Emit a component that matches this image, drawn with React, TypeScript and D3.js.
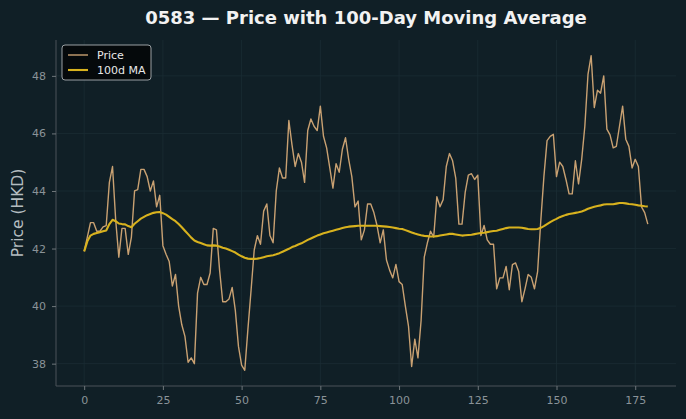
import React, { useEffect, useRef } from "react";
import * as d3 from "d3";

// ---- data ----
const price: number[] = [
  41.9, 42.4, 42.9, 42.9, 42.6, 42.6, 42.75, 42.8, 44.3, 44.85,
  43.0, 41.7, 42.7, 42.7, 41.8, 42.4, 44.0, 44.05, 44.75, 44.75,
  44.5, 44.0, 44.35, 43.45, 43.85, 42.1, 41.8, 41.55, 40.7, 41.1,
  40.0, 39.35, 38.95, 38.05, 38.2, 38.0, 40.45, 41.0, 40.75, 40.75,
  41.15, 42.7, 42.65, 41.25, 40.15, 40.15, 40.25, 40.65, 39.85, 38.6,
  37.95, 37.77, 39.2, 40.55, 41.95, 42.45, 42.15, 43.3, 43.55, 42.45,
  42.2, 44.0, 44.8, 44.45, 44.45, 46.45, 45.6, 44.85, 45.3, 45.0,
  44.3, 46.1, 46.5, 46.25, 46.1, 46.95, 45.9, 45.5, 44.8, 44.1,
  44.95, 44.65, 45.45, 45.85, 45.1, 44.5, 43.45, 43.65, 42.3, 42.65,
  43.55, 43.55, 43.25, 42.8, 42.2, 42.65, 41.6, 41.25, 40.98, 41.45,
  40.85, 40.75, 40.0, 39.3, 37.9, 38.85, 38.2, 39.5, 41.7, 42.2,
  42.6, 42.4, 43.8, 43.45, 43.7, 44.85, 45.3, 45.05, 44.45, 42.85,
  42.85, 43.95, 44.55, 44.6, 44.4, 44.55, 42.45, 42.8, 42.3, 42.15,
  42.15, 40.6, 40.98, 40.98, 41.38, 40.57, 41.44, 41.5, 41.2, 40.15,
  40.6, 41.1, 41.0, 40.6, 41.2, 42.95, 44.5, 45.75, 45.9, 45.97,
  44.5, 45.0, 44.85, 44.4, 43.9, 43.9, 45.05, 44.25, 45.1, 46.25,
  48.05, 48.7, 46.9, 47.5, 47.4, 48.0, 46.15, 45.95, 45.5, 45.55,
  46.25, 46.95, 45.8, 45.55, 44.8, 45.1, 44.85, 43.45, 43.25, 42.85,
];

const ma100: number[] = [
  41.9, 42.25, 42.45, 42.51, 42.54, 42.57, 42.6, 42.63, 42.85, 43.0,
  42.95, 42.87, 42.85, 42.84, 42.78, 42.74, 42.86, 42.95, 43.04, 43.1,
  43.16, 43.2, 43.24, 43.26, 43.27, 43.23, 43.18, 43.1, 43.02, 42.95,
  42.85, 42.74, 42.62, 42.5, 42.38, 42.28, 42.23, 42.19, 42.15, 42.11,
  42.1, 42.11, 42.1, 42.07, 42.03, 42.0, 41.96, 41.91, 41.86, 41.79,
  41.73, 41.68, 41.65, 41.64, 41.64, 41.65, 41.67, 41.7, 41.73, 41.75,
  41.77, 41.8, 41.84, 41.89, 41.94, 41.99, 42.05, 42.09, 42.14, 42.18,
  42.24, 42.3, 42.35, 42.4, 42.45, 42.49, 42.53, 42.56, 42.59, 42.62,
  42.65, 42.68, 42.71, 42.74, 42.76, 42.77, 42.78, 42.79, 42.79, 42.79,
  42.79, 42.79, 42.79, 42.79, 42.78, 42.77, 42.76, 42.75, 42.73, 42.71,
  42.69, 42.68, 42.64, 42.6, 42.56, 42.52, 42.49, 42.46, 42.44, 42.43,
  42.42, 42.42, 42.43, 42.45, 42.47, 42.49, 42.51, 42.51, 42.49, 42.47,
  42.45, 42.46, 42.47, 42.48, 42.5, 42.52, 42.54, 42.55, 42.57, 42.59,
  42.61, 42.62, 42.65, 42.68, 42.71, 42.73, 42.73, 42.73, 42.73, 42.72,
  42.7, 42.68, 42.67, 42.67, 42.68, 42.72, 42.78, 42.85, 42.92, 42.98,
  43.03, 43.09, 43.13, 43.17, 43.2, 43.22, 43.24, 43.26, 43.29, 43.33,
  43.38, 43.42, 43.45, 43.48, 43.5, 43.53, 43.54, 43.54, 43.54, 43.56,
  43.58, 43.58, 43.57, 43.55, 43.54, 43.52, 43.5, 43.49, 43.47, 43.46,
];

const xTicks = [0, 25, 50, 75, 100, 125, 150, 175];
const yTicks = [38, 40, 42, 44, 46, 48];
const seriesNames = ["Price", "100d MA"];

const BG = "#101f26";
const PRICE_COLOR = "#c9a172";
const MA_COLOR = "#d8b21e";
const TICK_COLOR = "#8a9398";

function PriceChart() {
  const ref = useRef<SVGSVGElement | null>(null);

  useEffect(() => {
    document.body.style.margin = "0";
    document.body.style.background = BG;

    const dimensions = {
      width: 686,
      height: 419,
      margin: { top: 40, right: 10, bottom: 33, left: 56 },
      boundedWidth: 0,
      boundedHeight: 0,
    };
    dimensions.boundedWidth =
      dimensions.width - dimensions.margin.left - dimensions.margin.right;
    dimensions.boundedHeight =
      dimensions.height - dimensions.margin.top - dimensions.margin.bottom;

    const svg = d3.select(ref.current);
    svg.selectAll("*").remove();

    svg
      .append("rect")
      .attr("width", dimensions.width)
      .attr("height", dimensions.height)
      .attr("fill", BG);

    const bounds = svg
      .append("g")
      .attr(
        "transform",
        `translate(${dimensions.margin.left},${dimensions.margin.top})`
      );

    // scales (matplotlib-like 5% padding)
    const n = price.length;
    const xPad = (n - 1) * 0.05;
    const xScale = d3
      .scaleLinear()
      .domain([-xPad, n - 1 + xPad])
      .range([0, dimensions.boundedWidth]);

    const allVals = price.concat(ma100);
    const [yMin, yMax] = d3.extent(allVals) as [number, number];
    const yPad = (yMax - yMin) * 0.05;
    const yScale = d3
      .scaleLinear()
      .domain([yMin - yPad, yMax + yPad])
      .range([dimensions.boundedHeight, 0]);

    // grid
    const grid = bounds.append("g");
    grid
      .selectAll(".gx")
      .data(xTicks)
      .join("line")
      .attr("x1", (d) => xScale(d))
      .attr("x2", (d) => xScale(d))
      .attr("y1", 0)
      .attr("y2", dimensions.boundedHeight)
      .attr("stroke", "#1a2c34")
      .attr("stroke-width", 0.8);
    grid
      .selectAll(".gy")
      .data(yTicks)
      .join("line")
      .attr("x1", 0)
      .attr("x2", dimensions.boundedWidth)
      .attr("y1", (d) => yScale(d))
      .attr("y2", (d) => yScale(d))
      .attr("stroke", "#1a2c34")
      .attr("stroke-width", 0.8);

    // lines
    const line = d3
      .line<number>()
      .x((_, i) => xScale(i))
      .y((d) => yScale(d));

    bounds
      .append("path")
      .datum(price)
      .attr("d", line)
      .attr("fill", "none")
      .attr("stroke", PRICE_COLOR)
      .attr("stroke-width", 1.4)
      .attr("stroke-linejoin", "round");

    bounds
      .append("path")
      .datum(ma100)
      .attr("d", line)
      .attr("fill", "none")
      .attr("stroke", MA_COLOR)
      .attr("stroke-width", 2.1)
      .attr("stroke-linejoin", "round");

    // axes
    const xAxisGenerator = d3
      .axisBottom(xScale)
      .tickValues(xTicks)
      .tickSize(4)
      .tickPadding(6);
    const xAxis = bounds
      .append("g")
      .attr("transform", `translate(0,${dimensions.boundedHeight})`)
      .call(xAxisGenerator);

    const yAxisGenerator = d3
      .axisLeft(yScale)
      .tickValues(yTicks)
      .tickSize(4)
      .tickPadding(6);
    const yAxis = bounds.append("g").call(yAxisGenerator);

    [xAxis, yAxis].forEach((ax) => {
      ax.select(".domain").attr("stroke", "#4a5358").attr("stroke-width", 1);
      ax.selectAll(".tick line").attr("stroke", "#6f777b");
      ax.selectAll(".tick text")
        .attr("fill", TICK_COLOR)
        .style("font-family", "DejaVu Sans, sans-serif")
        .style("font-size", "11px");
    });
    // spines without end caps
    xAxis
      .select(".domain")
      .attr("d", `M0,0H${dimensions.boundedWidth}`);
    yAxis
      .select(".domain")
      .attr("d", `M0,0V${dimensions.boundedHeight}`);

    // y label
    svg
      .append("text")
      .attr(
        "transform",
        `translate(23,${dimensions.margin.top + dimensions.boundedHeight / 2}) rotate(-90)`
      )
      .attr("text-anchor", "middle")
      .attr("fill", "#b4bcc0")
      .style("font-family", "DejaVu Sans, sans-serif")
      .style("font-size", "15.5px")
      .text("Price (HKD)");

    // title
    svg
      .append("text")
      .attr("x", dimensions.margin.left + dimensions.boundedWidth / 2)
      .attr("y", 24)
      .attr("text-anchor", "middle")
      .attr("fill", "#f2f2f2")
      .style("font-family", "DejaVu Sans, sans-serif")
      .style("font-size", "18px")
      .style("font-weight", "bold")
      .text("0583 \u2014 Price with 100-Day Moving Average");

    // legend
    const legend = bounds.append("g").attr("transform", "translate(6,5)");
    legend
      .append("rect")
      .attr("width", 89)
      .attr("height", 35)
      .attr("rx", 3)
      .attr("fill", "#05090b")
      .attr("stroke", "#9aa0a3")
      .attr("stroke-width", 1);
    const colors = [PRICE_COLOR, MA_COLOR];
    const items = legend
      .selectAll(".item")
      .data(seriesNames)
      .join("g")
      .attr("transform", (_, i) => `translate(6,${10 + i * 15})`);
    items
      .append("line")
      .attr("x1", 0)
      .attr("x2", 20)
      .attr("stroke", (_, i) => colors[i])
      .attr("stroke-width", (_, i) => (i === 0 ? 1.4 : 2.1));
    items
      .append("text")
      .attr("x", 29)
      .attr("dy", "0.35em")
      .attr("fill", "#e8e8e8")
      .style("font-family", "DejaVu Sans, sans-serif")
      .style("font-size", "11px")
      .text((d) => d);
  }, []);

  return <svg ref={ref} width={686} height={419} style={{ display: "block" }} />;
}

export default function App() {
  return <PriceChart />;
}
